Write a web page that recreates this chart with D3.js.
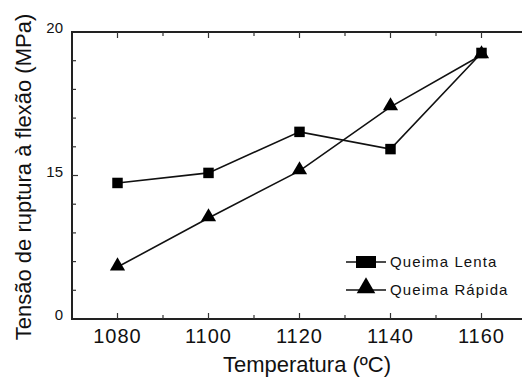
<!DOCTYPE html>
<html>
<head>
<meta charset="utf-8">
<script src="https://cdn.jsdelivr.net/npm/d3@7"></script>
<style>
  body { margin: 0; background: #fff; }
  text { font-family: "Liberation Sans", Arial, sans-serif; fill: #111; }
</style>
</head>
<body>
<script>
var temperaturas = [1080, 1100, 1120, 1140, 1160];
var queimaLenta = [14.74, 15.09, 16.52, 15.92, 19.27];
var queimaRapida = [11.81, 13.52, 15.16, 17.39, 19.20];
var xTicks = [1080, 1100, 1120, 1140, 1160];
var yTickValues = [10, 15, 20];
var yTickLabels = ["0", "15", "20"];

var width = 522, height = 377;

var svg = d3.select('body')
  .append('svg')
  .attr('width', width)
  .attr('height', height);

var x = d3.scaleLinear().domain([1070, 1170]).range([72, 527]);
var y = d3.scaleLinear().domain([10, 20]).range([319, 32]);

// frame (right edge falls outside the picture, like the scan)
svg.append('rect')
  .attr('x', x(1070))
  .attr('y', y(20))
  .attr('width', x(1170) - x(1070))
  .attr('height', y(10) - y(20))
  .attr('fill', 'none')
  .attr('stroke', '#222')
  .attr('stroke-width', 2);

// ticks, all pointing inward
var xMinor = d3.range(1080, 1170, 10);
svg.selectAll('.xtb')
  .data(xMinor)
  .enter()
  .append('line')
  .attr('x1', function(d) { return x(d); })
  .attr('x2', function(d) { return x(d); })
  .attr('y1', y(10))
  .attr('y2', function(d) { return y(10) - (d % 20 === 0 ? 6 : 4); })
  .attr('stroke', '#333')
  .attr('stroke-width', 1.2);

svg.selectAll('.xtt')
  .data(xMinor)
  .enter()
  .append('line')
  .attr('x1', function(d) { return x(d); })
  .attr('x2', function(d) { return x(d); })
  .attr('y1', y(20))
  .attr('y2', function(d) { return y(20) + (d % 20 === 0 ? 6 : 4); })
  .attr('stroke', '#333')
  .attr('stroke-width', 1.2);

var yMinor = d3.range(11, 20, 1);
svg.selectAll('.ytl')
  .data(yMinor)
  .enter()
  .append('line')
  .attr('x1', x(1070))
  .attr('x2', function(d) { return x(1070) + (d === 15 ? 6 : 4); })
  .attr('y1', function(d) { return y(d); })
  .attr('y2', function(d) { return y(d); })
  .attr('stroke', '#333')
  .attr('stroke-width', 1.2);

// tick labels
svg.selectAll('.xl')
  .data(xTicks)
  .enter()
  .append('text')
  .attr('x', function(d) { return x(d); })
  .attr('y', 343)
  .attr('text-anchor', 'middle')
  .style('font-size', '20px')
  .style('letter-spacing', '1px')
  .text(function(d) { return d; });

svg.selectAll('.yl')
  .data(yTickValues)
  .enter()
  .append('text')
  .attr('x', 63)
  .attr('y', function(d) { return y(d) + 1; })
  .attr('text-anchor', 'end')
  .style('font-size', '15px')
  .text(function(d, i) { return yTickLabels[i]; });

// axis titles
svg.append('text')
  .attr('x', 307)
  .attr('y', 372)
  .attr('text-anchor', 'middle')
  .style('font-size', '22px')
  .text('Temperatura (ºC)');

svg.append('text')
  .attr('transform', 'translate(31,177) rotate(-90)')
  .attr('text-anchor', 'middle')
  .style('font-size', '22px')
  .text('Tensão de ruptura à flexão (MPa)');

// series
var line = d3.line()
  .x(function(d) { return x(d[0]); })
  .y(function(d) { return y(d[1]); });

var lenta = temperaturas.map(function(t, i) { return [t, queimaLenta[i]]; });
var rapida = temperaturas.map(function(t, i) { return [t, queimaRapida[i]]; });

svg.append('path')
  .datum(lenta)
  .attr('d', line)
  .attr('fill', 'none')
  .attr('stroke', '#111')
  .attr('stroke-width', 1.6);

svg.append('path')
  .datum(rapida)
  .attr('d', line)
  .attr('fill', 'none')
  .attr('stroke', '#111')
  .attr('stroke-width', 1.6);

var square = d3.symbol().type(d3.symbolSquare).size(110);
var triangle = d3.symbol().type(d3.symbolTriangle).size(100);

svg.selectAll('.sq')
  .data(lenta)
  .enter()
  .append('path')
  .attr('d', square)
  .attr('transform', function(d) { return 'translate(' + x(d[0]) + ',' + y(d[1]) + ')'; })
  .attr('fill', '#000');

svg.selectAll('.tri')
  .data(rapida)
  .enter()
  .append('path')
  .attr('d', triangle)
  .attr('transform', function(d) { return 'translate(' + x(d[0]) + ',' + (y(d[1]) - 1) + ')'; })
  .attr('fill', '#000');

// legend
var legend = [
  { name: 'Queima Lenta', sym: 'sq', y: 262 },
  { name: 'Queima Rápida', sym: 'tri', y: 290 }
];

legend.forEach(function(l) {
  svg.append('line')
    .attr('x1', 346)
    .attr('x2', 386)
    .attr('y1', l.y)
    .attr('y2', l.y)
    .attr('stroke', '#111')
    .attr('stroke-width', 1.6);
  if (l.sym === 'sq') {
    svg.append('rect')
      .attr('x', 356)
      .attr('y', l.y - 6)
      .attr('width', 20)
      .attr('height', 12)
      .attr('fill', '#000');
  } else {
    svg.append('path')
      .attr('d', d3.symbol().type(d3.symbolTriangle).size(150)())
      .attr('transform', 'translate(366,' + (l.y - 2) + ')')
      .attr('fill', '#000');
  }
  svg.append('text')
    .attr('x', 390)
    .attr('y', l.y + 5)
    .style('font-size', '15px')
    .style('letter-spacing', '1.1px')
    .text(l.name);
});
</script>
</body>
</html>
